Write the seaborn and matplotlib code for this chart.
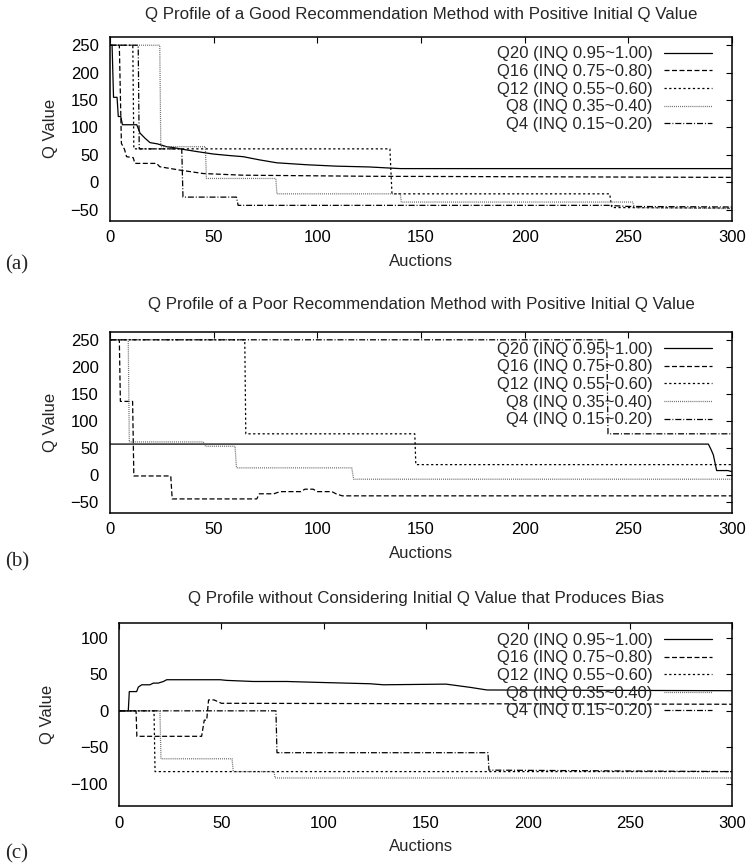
import matplotlib
matplotlib.use("Agg")
import matplotlib.pyplot as plt
import seaborn as sns

# ---------------- data ----------------
labels = ["Q20 (INQ 0.95~1.00)", "Q16 (INQ 0.75~0.80)", "Q12 (INQ 0.55~0.60)",
          "Q8 (INQ 0.35~0.40)", "Q4 (INQ 0.15~0.20)"]

titles = ["Q Profile of a Good Recommendation Method with Positive Initial Q Value",
          "Q Profile of a Poor Recommendation Method with Positive Initial Q Value",
          "Q Profile without Considering Initial Q Value that Produces Bias"]
panel_tags = ["(a)", "(b)", "(c)"]

x_ticks = [0, 50, 100, 150, 200, 250, 300]
y_ticks_ab = [-50, 0, 50, 100, 150, 200, 250]
y_ticks_c = [-100, -50, 0, 50, 100]

# panel (a)
a_q20_x = [0, 1, 1.7, 3.4, 4.0, 5.2, 6, 12.9, 14.5, 17, 19.3, 23, 27.3, 31, 35.4, 42, 49.8, 57, 64.3, 72, 80.4, 95, 109, 125, 140, 300]
a_q20_y = [250, 250, 155, 155, 120, 120, 105, 105, 89.6, 80, 72.4, 70, 65, 63, 60, 56, 51.6, 49, 46.7, 41, 35.6, 32, 29.5, 28, 25, 25]
a_q16_x = [0, 4.5, 5.5, 7, 8, 11.2, 12, 22.5, 24, 33.8, 45, 64, 125, 300]
a_q16_y = [250, 250, 71, 60, 46.7, 45, 34.5, 34.5, 28.4, 22.2, 16, 13, 11, 9]
a_q12_x = [0, 11, 11.5, 135, 136, 241, 242, 300]
a_q12_y = [250, 250, 61, 61, -21, -21, -46, -47]
a_q8_x = [0, 24, 24.5, 46, 46.5, 80, 80.5, 140, 140.5, 252, 253, 300]
a_q8_y = [250, 250, 65, 65, 7, 7, -21, -21, -36, -36, -46, -48]
a_q4_x = [0, 13.6, 14.1, 34.6, 35.2, 61, 61.8, 240, 250, 300]
a_q4_y = [250, 250, 61, 61, -27, -27, -42, -42, -44, -45]

# panel (b)
b_q20_x = [0, 288.6, 290, 291, 292.6, 298, 300]
b_q20_y = [57, 57, 46, 37, 8, 8, 6]
b_q16_x = [0, 4.5, 5, 10.9, 11.5, 29.3, 30, 70.8, 72, 79, 82, 92, 94, 98, 100, 107, 109, 112, 300]
b_q16_y = [250, 250, 136, 136, -2, -2, -44.5, -44.5, -35, -35, -31, -31, -26.5, -26.5, -31, -31, -35, -38.8, -38.8]
b_q12_x = [0, 65, 65.5, 147, 147.5, 300]
b_q12_y = [250, 250, 76, 76, 19, 19]
b_q8_x = [0, 8.8, 9.3, 45, 46, 60.3, 61, 116.6, 117.5, 300]
b_q8_y = [250, 250, 61, 61, 53, 53, 13, 13, -8, -8]
b_q4_x = [0, 239.6, 240.2, 300]
b_q4_y = [250, 250, 76, 76]

# panel (c)
c_q20_x = [0, 4.4, 4.9, 8.5, 9.3, 11, 15, 16.7, 19.1, 21.6, 23.2, 49.3, 52.6, 65.6, 82, 98.3, 122.8, 129.3, 160, 172, 180, 300]
c_q20_y = [0, 0, 26.3, 26.3, 32.4, 35.6, 35.6, 37.9, 37.9, 40.1, 42.5, 42.5, 41.6, 40.1, 40.1, 38.8, 37, 35.6, 36.5, 32, 28.5, 27.5]
c_q16_x = [0, 8.2, 8.6, 40.3, 41.6, 42.8, 43.7, 46.4, 50, 300]
c_q16_y = [0, 0, -34.8, -34.8, -12.7, -12.7, 14.9, 14.9, 10.3, 9]
c_q12_x = [0, 17, 17.5, 300]
c_q12_y = [0, 0, -83, -83]
c_q8_x = [0, 19.9, 20.4, 55.2, 55.8, 75.7, 76.3, 300]
c_q8_y = [0, 0, -65.5, -65.5, -83, -83, -91.7, -91.7]
c_q4_x = [0, 76.7, 77.2, 180.5, 181, 300]
c_q4_y = [0, 0, -57.2, -57.2, -81, -83]

panels = [
    [(a_q20_x, a_q20_y), (a_q16_x, a_q16_y), (a_q12_x, a_q12_y), (a_q8_x, a_q8_y), (a_q4_x, a_q4_y)],
    [(b_q20_x, b_q20_y), (b_q16_x, b_q16_y), (b_q12_x, b_q12_y), (b_q8_x, b_q8_y), (b_q4_x, b_q4_y)],
    [(c_q20_x, c_q20_y), (c_q16_x, c_q16_y), (c_q12_x, c_q12_y), (c_q8_x, c_q8_y), (c_q4_x, c_q4_y)],
]

# ---------------- style ----------------
sns.set_style("white")
plt.rcParams['font.family'] = ['Liberation Sans', 'DejaVu Sans']
plt.rcParams['lines.scale_dashes'] = False

line_styles = [
    dict(color="black", linestyle="-"),
    dict(color="black", linestyle=(0, (3.6, 1.8))),
    dict(color="black", linestyle=(0, (1.6, 1.8))),
    dict(color="#555555", linestyle=(0, (0.6, 0.8))),
    dict(color="black", linestyle=(0, (4.3, 1.4, 0.7, 1.4))),
]

W, H = 748, 865
fig = plt.figure(figsize=(W / 100, H / 100), dpi=100)


def px_axes(left, top, right, bottom):
    return fig.add_axes([left / W, 1 - bottom / H, (right - left) / W, (bottom - top) / H])


boxes = [(110, 37, 732, 220.7), (110, 331.7, 732, 512.7), (119.3, 623, 732, 806)]
ylims = [(-70, 265), (-70, 265), (-130, 120)]
yticks = [y_ticks_ab, y_ticks_ab, y_ticks_c]
title_y = [15, 304, 598]
tag_y = [265, 562, 854]
ylabel_cx = [48, 48, 46]
leg_top = [9.4, 10.0, 9.7]

for i, (box, series) in enumerate(zip(boxes, panels)):
    ax = px_axes(*box)
    for lab, (xs, ys), st in zip(labels, series, line_styles):
        sns.lineplot(x=xs, y=ys, ax=ax, sort=False, estimator=None,
                     linewidth=0.9, label=lab, **st)
    ax.set_xlim(0, 300)
    ax.set_ylim(*ylims[i])
    ax.set_xticks(x_ticks)
    ax.set_yticks(yticks[i])
    ax.tick_params(direction="in", top=True, right=True, length=4.5, width=0.8,
                   labelsize=12, colors="black")
    ax.tick_params(axis="x", pad=7)
    ax.tick_params(axis="y", pad=8)
    for s in ax.spines.values():
        s.set_linewidth(1.1)
        s.set_color("black")
    hpx = box[3] - box[1]
    wpx = box[2] - box[0]
    ax.set_xlabel("Auctions", fontsize=12)
    ax.set_ylabel("Q Value", fontsize=12)
    ax.xaxis.set_label_coords(0.5 - (box[0] + wpx / 2 - 421) / wpx, -33 / hpx)
    ax.yaxis.set_label_coords(-(box[0] - (ylabel_cx[i] + 9.5)) / wpx, 0.5)

    leg = ax.legend(loc="upper right",
                    bbox_to_anchor=((712 - box[0]) / wpx, 1 - leg_top[i] / hpx),
                    frameon=False, markerfirst=False, handlelength=2.9,
                    handletextpad=0.65, labelspacing=0.16, borderpad=0,
                    borderaxespad=0, fontsize=12)
    for col in leg._legend_handle_box.get_children():
        col.align = "right"

    fig.text((box[0] + wpx / 2) / W, 1 - title_y[i] / H, titles[i],
             ha="center", va="center", fontsize=12.2)
    fig.text(5 / W, 1 - tag_y[i] / H, panel_tags[i], ha="left", va="center",
             fontsize=15, family=["Liberation Serif", "DejaVu Serif"])

fig.savefig("out.png", dpi=100)
